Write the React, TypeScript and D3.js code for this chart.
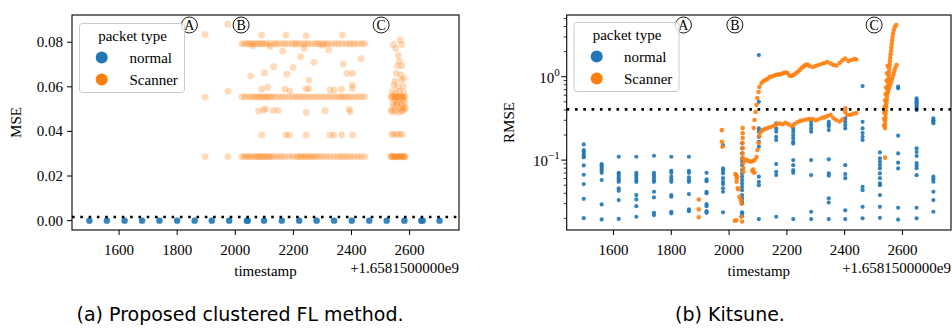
import * as d3 from "d3";

const blue = "#1f77b4";
const orange = "#ff7f0e";
const serif = "'Liberation Serif', 'Times New Roman', serif";

// timestamps are offsets from 1.6581500000e9
const xTicks = [1600, 1800, 2000, 2200, 2400, 2600];
const eventTimes = [1842, 2020, 2502];
const eventLabels = ["A", "B", "C"];

// ---------- (a) proposed clustered FL : MSE ----------
const mseThreshold = 0.0016;
const mseYTicks = [0, 0.02, 0.04, 0.06, 0.08];
const mseNormalTimes = [1498, 1558, 1619, 1679, 1739, 1800, 1860, 1919, 1979, 2040, 2043, 2099, 2160, 2220, 2280, 2340, 2401, 2461, 2521, 2582, 2640, 2645, 2703];
const mseRowLow = [2022, 2030, 2038, 2045, 2052, 2060, 2068, 2074, 2080, 2086, 2092, 2098, 2104, 2110, 2117, 2124, 2131, 2142, 2152, 2162, 2172, 2186, 2198, 2210, 2217, 2224, 2231, 2238, 2245, 2252, 2259, 2266, 2274, 2282, 2292, 2303, 2314, 2326, 2338, 2350, 2360, 2369, 2378, 2388, 2398, 2410, 2422, 2433, 2445];
const mseRowMid = [2022, 2032, 2042, 2052, 2062, 2070, 2078, 2085, 2092, 2099, 2106, 2113, 2120, 2128, 2138, 2150, 2161, 2172, 2185, 2197, 2208, 2218, 2228, 2238, 2249, 2260, 2272, 2284, 2296, 2308, 2320, 2331, 2342, 2353, 2362, 2371, 2380, 2390, 2400, 2412, 2424, 2435, 2446];
const mseRowHigh = [2022, 2031, 2040, 2047, 2055, 2062, 2070, 2078, 2086, 2093, 2101, 2110, 2121, 2133, 2141, 2150, 2163, 2172, 2183, 2196, 2204, 2212, 2221, 2233, 2241, 2250, 2262, 2274, 2283, 2290, 2301, 2312, 2320, 2333, 2345, 2356, 2368, 2381, 2392, 2402, 2411, 2423, 2436, 2445];
const mseRowLevels = [0.0287, 0.0555, 0.0793];
const mseScannerScattered = [
  [1896, 0.0835], [1896, 0.0553], [1896, 0.0287], [1974, 0.0881], [1974, 0.058], [1974, 0.0287],
  [2091, 0.0832], [2174, 0.0832], [2244, 0.0829], [2369, 0.0832], [2060, 0.0784], [2120, 0.0782], [2300, 0.0786],
  [2163, 0.076], [2237, 0.0772], [2322, 0.0765], [2433, 0.0726], [2225, 0.0735], [2271, 0.071], [2372, 0.0702],
  [2132, 0.069], [2198, 0.0687], [2053, 0.0648], [2100, 0.0663], [2177, 0.0657], [2254, 0.063], [2384, 0.066],
  [2403, 0.066], [2403, 0.0608], [2403, 0.0593], [2091, 0.0589], [2112, 0.0598], [2171, 0.0589], [2188, 0.0582],
  [2244, 0.0591], [2253, 0.0591], [2326, 0.0585], [2341, 0.0585], [2366, 0.0589],
  [2080, 0.0491], [2097, 0.0496], [2105, 0.05], [2131, 0.0494], [2148, 0.0494], [2244, 0.0486], [2309, 0.0493],
  [2392, 0.0499], [2395, 0.0488], [2091, 0.0384], [2174, 0.0384], [2186, 0.0384], [2244, 0.0384], [2325, 0.0384],
  [2339, 0.0384], [2366, 0.0384], [2404, 0.0384],
];
const mseScannerBurst = [
  [2535, 0.0287], [2540, 0.0287], [2545, 0.0287], [2550, 0.0287], [2555, 0.0287], [2560, 0.0287], [2565, 0.0287],
  [2570, 0.0287], [2575, 0.0287], [2580, 0.0287], [2585, 0.0287], [2538, 0.0289], [2552, 0.0285], [2568, 0.0289], [2582, 0.0285],
  [2538, 0.0387], [2546, 0.0387], [2556, 0.0387], [2566, 0.0387], [2574, 0.0387],
  [2540, 0.0488], [2550, 0.0493], [2560, 0.0485], [2572, 0.049], [2582, 0.0498], [2545, 0.051], [2565, 0.0505], [2578, 0.0512],
  [2536, 0.0495], [2555, 0.0515], [2575, 0.0495], [2585, 0.0505],
  [2542, 0.0526], [2556, 0.053], [2570, 0.0522], [2584, 0.0528], [2548, 0.054], [2563, 0.0535], [2578, 0.0542],
  [2535, 0.0555], [2540, 0.0555], [2545, 0.0557], [2550, 0.0553], [2555, 0.0555], [2560, 0.0555], [2565, 0.0557],
  [2570, 0.0553], [2575, 0.0555], [2580, 0.0555], [2585, 0.0555],
  [2540, 0.0578], [2552, 0.0572], [2566, 0.058], [2580, 0.0575], [2545, 0.0608], [2560, 0.06], [2578, 0.0602],
  [2550, 0.0625], [2572, 0.063], [2554, 0.066], [2570, 0.0653], [2581, 0.0638], [2558, 0.0694], [2573, 0.0694],
  [2565, 0.0715], [2561, 0.0742], [2552, 0.0772], [2544, 0.079], [2573, 0.079], [2567, 0.081],
];

// ---------- (b) Kitsune : RMSE ----------
const rmseThreshold = 0.406;
const rmseMajorTicks = [0.1, 1];
const rmseMinorTicks = [0.02, 0.03, 0.04, 0.05, 0.06, 0.07, 0.08, 0.09, 0.2, 0.3, 0.4, 0.5, 0.6, 0.7, 0.8, 0.9, 2, 3, 4, 5];
const rmseNormalTimes = [1497, 1559, 1618, 1679, 1740, 1800, 1861, 1922, 1979, 2045, 2103, 2163, 2222, 2284, 2345, 2402, 2462, 2522, 2585, 2649, 2707];
const rmseNormalValues = [
  [0.154, 0.132, 0.126, 0.118, 0.112, 0.108, 0.0864, 0.0667, 0.0515, 0.0343, 0.0201],
  [0.0895, 0.0864, 0.0831, 0.0786, 0.0744, 0.0704, 0.0575, 0.0294, 0.0194],
  [0.1096, 0.0704, 0.0679, 0.0643, 0.0603, 0.0575, 0.0549, 0.0457, 0.0428, 0.0331, 0.0197],
  [0.1096, 0.0704, 0.0661, 0.062, 0.0575, 0.0549, 0.038, 0.0337, 0.028, 0.0209],
  [0.1127, 0.0704, 0.0661, 0.062, 0.0575, 0.0549, 0.0417, 0.0357, 0.0233, 0.0219],
  [0.1096, 0.0744, 0.0704, 0.0633, 0.0586, 0.0549, 0.038, 0.0364, 0.024, 0.023],
  [0.1096, 0.0744, 0.0704, 0.062, 0.0575, 0.0549, 0.0391, 0.0256, 0.0244],
  [0.0704, 0.0586, 0.0558, 0.0417, 0.0399, 0.0296, 0.028, 0.0244, 0.0233],
  [0.151, 0.0795, 0.0744, 0.0692, 0.0606, 0.0549, 0.0515, 0.0458, 0.0417, 0.0236],
  [0.1587, 0.1382, 0.1203, 0.1048, 0.0954, 0.0871, 0.0759, 0.0692, 0.0631, 0.0575, 0.0525, 0.0478, 0.0436, 0.038, 0.0347, 0.0316, 0.0302, 0.0236, 0.023, 0.0213],
  [1.82, 0.5, 0.24, 0.219, 0.19, 0.166, 0.145, 0.0633, 0.0549, 0.05, 0.0196],
  [0.276, 0.24, 0.219, 0.19, 0.174, 0.0895, 0.0723, 0.0661, 0.0209],
  [0.24, 0.219, 0.2, 0.183, 0.166, 0.158, 0.1, 0.087, 0.0757, 0.0704, 0.0196],
  [0.288, 0.263, 0.24, 0.219, 0.1, 0.0661, 0.024, 0.0196],
  [0.288, 0.27, 0.254, 0.229, 0.102, 0.0692, 0.065, 0.0348, 0.031, 0.0196],
  [0.316, 0.288, 0.263, 0.24, 0.087, 0.068, 0.0606, 0.025, 0.0196],
  [0.773, 0.288, 0.24, 0.211, 0.19, 0.174, 0.0478, 0.0436, 0.0275, 0.02],
  [0.1237, 0.1047, 0.0953, 0.0871, 0.0795, 0.0692, 0.0606, 0.0525, 0.05, 0.038, 0.0275, 0.0203],
  [0.759, 0.726, 0.196, 0.1203, 0.093, 0.0795, 0.0268, 0.0193],
  [0.55, 0.52, 0.5, 0.48, 0.457, 0.437, 0.417, 0.398, 0.138, 0.125, 0.112, 0.092, 0.086, 0.08, 0.066, 0.0268, 0.02],
  [0.316, 0.3, 0.29, 0.276, 0.0633, 0.059, 0.055, 0.0417, 0.0331, 0.024],
];
const rmseScannerEarly = [
  [1895, 0.0337], [1895, 0.0256], [1895, 0.0206], [1975, 0.2287], [1975, 0.166], [1977, 0.1445],
  [2020, 0.0187], [2042, 0.0209], [2045, 0.0183], [2025, 0.019], [2022, 0.068], [2028, 0.063], [2026, 0.0549],
  [2024, 0.066], [2027, 0.0606], [2030, 0.0458], [2032, 0.0446], [2036, 0.0364], [2040, 0.0331], [2043, 0.0302],
  [2047, 0.242], [2047, 0.21], [2047, 0.184], [2047, 0.16], [2047, 0.139], [2047, 0.12], [2049, 0.092], [2049, 0.08], [2049, 0.072],
  [2080, 0.0745], [2084, 0.072], [2088, 0.0705], [2083, 0.077],
];
const rmseScannerLower = [
  [2047, 0.106], [2054, 0.101], [2061, 0.1], [2068, 0.097], [2075, 0.096], [2081, 0.097], [2088, 0.1], [2095, 0.109],
  [2098, 0.132], [2102, 0.16], [2105, 0.194], [2109, 0.217], [2116, 0.229], [2123, 0.235], [2133, 0.242], [2143, 0.249],
  [2154, 0.256], [2164, 0.27], [2174, 0.274], [2185, 0.27], [2195, 0.28], [2205, 0.27], [2216, 0.256], [2226, 0.27],
  [2237, 0.286], [2247, 0.295], [2257, 0.3], [2268, 0.307], [2278, 0.31], [2289, 0.31], [2299, 0.3], [2309, 0.307],
  [2320, 0.319], [2330, 0.325], [2340, 0.337], [2351, 0.347], [2361, 0.319], [2371, 0.302], [2382, 0.29], [2392, 0.307],
  [2402, 0.377], [2402, 0.418], [2409, 0.347], [2420, 0.35], [2430, 0.36], [2440, 0.366],
];
const rmseScannerUpper = [
  [2085, 0.242], [2088, 0.302], [2092, 0.377], [2095, 0.457], [2098, 0.555], [2102, 0.655], [2105, 0.752], [2112, 0.84],
  [2119, 0.888], [2126, 0.913], [2133, 0.94], [2140, 0.99], [2147, 1.005], [2154, 1.02], [2161, 1.048], [2168, 1.063],
  [2174, 1.063], [2181, 1.077], [2188, 1.107], [2195, 1.123], [2202, 1.107], [2209, 1.034], [2216, 1.02], [2223, 1.048],
  [2230, 1.092], [2237, 1.14], [2244, 1.2], [2251, 1.27], [2257, 1.32], [2264, 1.38], [2271, 1.4], [2278, 1.345],
  [2289, 1.31], [2299, 1.345], [2309, 1.38], [2320, 1.42], [2330, 1.46], [2340, 1.5], [2351, 1.44], [2361, 1.38],
  [2371, 1.36], [2382, 1.46], [2392, 1.57], [2402, 1.65], [2413, 1.54], [2423, 1.59], [2434, 1.63], [2440, 1.61],
];
const rmseScannerBurst = [
  [2539.5, 0.242], [2539.8, 0.267], [2540.5, 0.294], [2541.2, 0.324], [2541.9, 0.357], [2542.6, 0.393], [2543.3, 0.433],
  [2544.3, 0.477], [2545.7, 0.525], [2546.4, 0.579], [2547.4, 0.637], [2548.5, 0.702], [2549.5, 0.773], [2550.5, 0.852],
  [2551.6, 0.938], [2552.3, 1.034], [2553.3, 1.139], [2554.4, 1.254], [2555.4, 1.382], [2556.4, 1.522], [2557.8, 1.677],
  [2558.8, 1.847], [2560.2, 2.034], [2561.6, 2.241], [2563, 2.469], [2564.4, 2.72], [2565.7, 2.996], [2567.8, 3.3],
  [2569.9, 3.64], [2573.3, 3.95], [2578.5, 4.17],
  [2536, 0.26], [2536.5, 0.31], [2537.5, 0.37], [2538.5, 0.44], [2540, 0.52], [2541.5, 0.62], [2543, 0.74], [2545, 0.9], [2547, 1.1], [2549, 1.35],
  [2549.9, 0.655], [2552.6, 0.712], [2556, 0.773], [2559.5, 0.84], [2563, 0.913], [2565.8, 0.992], [2568.9, 1.077],
  [2571.6, 1.17], [2575.1, 1.27], [2579.6, 1.382], [2540, 0.107],
];

const mseX = d3.scaleLinear().domain([1438, 2770]).range([72, 459]);
const mseY = d3.scaleLinear().domain([-0.0042, 0.0922]).range([230, 15]);
const rmseX = d3.scaleLinear().domain([1438, 2768]).range([566.7, 951]);
const rmseY = d3.scaleLog().domain([0.0145, 5.5]).range([230, 15]);

function Frame({ x, y }) {
  const [x0, x1] = x.range();
  const [y1, y0] = y.range();
  return <rect x={x0} y={y0} width={x1 - x0} height={y1 - y0} fill="none" stroke="#000" strokeWidth={1.1} />;
}

function XAxis({ x, y }) {
  const [x0, x1] = x.range();
  const yb = y.range()[0];
  return (
    <g fontFamily={serif} fontSize={15}>
      {xTicks.map((t) => (
        <g key={t}>
          <line x1={x(t)} x2={x(t)} y1={yb} y2={yb + 5} stroke="#000" />
          <text x={x(t)} y={yb + 25} textAnchor="middle">{t}</text>
        </g>
      ))}
      <text x={(x0 + x1) / 2} y={yb + 46} textAnchor="middle">timestamp</text>
      <text x={x1} y={yb + 43} textAnchor="end">+1.6581500000e9</text>
    </g>
  );
}

function Events({ x, y }) {
  const top = y.range()[1];
  return (
    <g fontFamily={serif} fontSize={14}>
      {eventTimes.map((t, i) => (
        <g key={t}>
          <circle cx={x(t)} cy={top + 10} r={8} fill="none" stroke="#000" strokeWidth={0.9} />
          <text x={x(t)} y={top + 15} textAnchor="middle">{eventLabels[i]}</text>
        </g>
      ))}
    </g>
  );
}

function Legend({ x0, y0, markerX, textX }) {
  return (
    <g fontFamily={serif} fontSize={15}>
      <rect x={x0} y={y0} width={105} height={69} rx={3} fill="#fff" fillOpacity={0.8} stroke="#cccccc" />
      <text x={x0 + 53} y={y0 + 17} textAnchor="middle">packet type</text>
      <circle cx={markerX} cy={y0 + 34} r={6} fill={blue} />
      <text x={textX} y={y0 + 39}>normal</text>
      <circle cx={markerX} cy={y0 + 56} r={6} fill={orange} />
      <text x={textX} y={y0 + 61}>Scanner</text>
    </g>
  );
}

function MsePanel() {
  const x = mseX, y = mseY;
  const rows = [mseRowLow, mseRowMid, mseRowHigh].flatMap((row, i) => row.map((t) => [t, mseRowLevels[i]]));
  const scanner = [...mseScannerScattered, ...rows, ...mseScannerBurst];
  return (
    <g>
      <g>
        {mseNormalTimes.map((t, i) => (
          <circle key={i} cx={x(t)} cy={y(0)} r={3.2} fill={blue} fillOpacity={0.9} />
        ))}
        {scanner.map(([t, v], i) => (
          <circle key={"s" + i} cx={x(t)} cy={y(v)} r={3.4} fill={orange} fillOpacity={0.28} />
        ))}
      </g>
      <line x1={72} x2={459} y1={y(mseThreshold)} y2={y(mseThreshold)} stroke="#000" strokeWidth={2.6} strokeDasharray="2.6 5.7" />
      <Frame x={x} y={y} />
      <g fontFamily={serif} fontSize={15}>
        {mseYTicks.map((t) => (
          <g key={t}>
            <line x1={67} x2={72} y1={y(t)} y2={y(t)} stroke="#000" />
            <text x={63} y={y(t) + 5} textAnchor="end">{t.toFixed(2)}</text>
          </g>
        ))}
        <text transform={`translate(21,${(15 + 230) / 2}) rotate(-90)`} textAnchor="middle">MSE</text>
      </g>
      <XAxis x={x} y={y} />
      <Events x={x} y={y} />
      <Legend x0={79.5} y0={23.5} markerX={101.7} textX={129.5} />
    </g>
  );
}

function RmsePanel() {
  const x = rmseX, y = rmseY;
  const normal = rmseNormalTimes.flatMap((t, i) => rmseNormalValues[i].map((v) => [t, v]));
  const scanner = [...rmseScannerEarly, ...rmseScannerLower, ...rmseScannerUpper, ...rmseScannerBurst];
  const x0 = x.range()[0];
  return (
    <g>
      {normal.map(([t, v], i) => (
        <circle key={i} cx={x(t)} cy={y(v)} r={2.1} fill={blue} fillOpacity={0.9} />
      ))}
      {scanner.map(([t, v], i) => (
        <circle key={"s" + i} cx={x(t)} cy={y(v)} r={2.3} fill={orange} fillOpacity={0.9} />
      ))}
      <line x1={x0} x2={951} y1={y(rmseThreshold)} y2={y(rmseThreshold)} stroke="#000" strokeWidth={2.6} strokeDasharray="2.6 5.7" />
      <Frame x={x} y={y} />
      <g fontFamily={serif} fontSize={15}>
        {rmseMinorTicks.map((t) => (
          <line key={t} x1={x0 - 3} x2={x0} y1={y(t)} y2={y(t)} stroke="#000" strokeWidth={0.8} />
        ))}
        {rmseMajorTicks.map((t) => (
          <g key={t}>
            <line x1={x0 - 5.5} x2={x0} y1={y(t)} y2={y(t)} stroke="#000" />
            <text x={x0 - 7} y={y(t) + 6} textAnchor="end">
              10<tspan dy={-7} fontSize={11}>{t === 1 ? "0" : "\u22121"}</tspan>
            </text>
          </g>
        ))}
        <text transform={`translate(514,${(15 + 230) / 2}) rotate(-90)`} textAnchor="middle">RMSE</text>
      </g>
      <XAxis x={x} y={y} />
      <Events x={x} y={y} />
      <Legend x0={574} y0={22.5} markerX={596.7} textX={624} />
    </g>
  );
}

export default function App() {
  return (
    <svg width={952} height={329} style={{ position: "absolute", left: 0, top: 0, background: "#fff" }}>
      <MsePanel />
      <RmsePanel />
      <g fontFamily="'DejaVu Sans', sans-serif" fontSize={19} textAnchor="middle">
        <text x={240} y={321}>(a) Proposed clustered FL method.</text>
        <text x={730} y={321}>(b) Kitsune.</text>
      </g>
    </svg>
  );
}
